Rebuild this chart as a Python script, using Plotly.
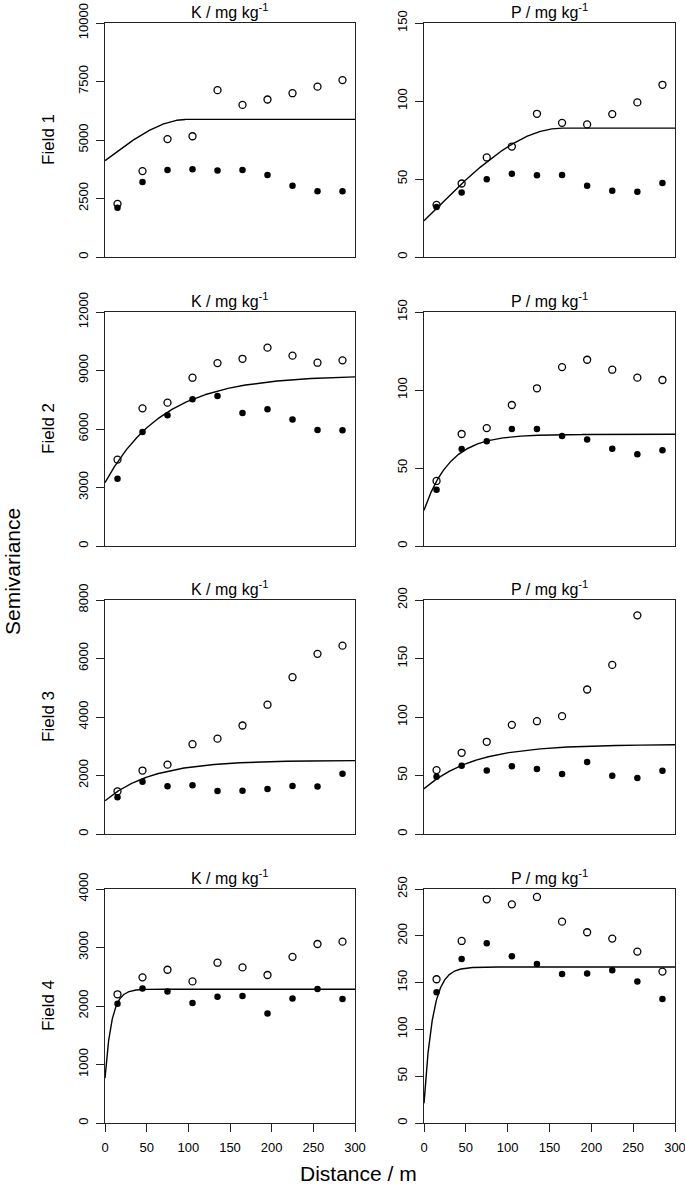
import numpy as np
import plotly.graph_objects as go

# lag distances (m)
lag = [15, 45, 75, 105, 135, 165, 195, 225, 255, 285]

# K / mg kg-1, open and filled symbols, fields 1-4
k_open_f1 = [2270, 3670, 5040, 5160, 7130, 6500, 6730, 7000, 7280, 7560]
k_fill_f1 = [2110, 3210, 3720, 3750, 3700, 3720, 3500, 3040, 2810, 2810]
k_open_f2 = [4430, 7060, 7350, 8630, 9380, 9600, 10170, 9760, 9400, 9520]
k_fill_f2 = [3450, 5850, 6700, 7520, 7690, 6820, 7010, 6490, 5950, 5930]
k_open_f3 = [1460, 2170, 2370, 3070, 3260, 3710, 4420, 5360, 6160, 6440]
k_fill_f3 = [1260, 1790, 1630, 1670, 1470, 1480, 1540, 1640, 1620, 2060]
k_open_f4 = [2200, 2490, 2620, 2420, 2740, 2660, 2530, 2840, 3060, 3100]
k_fill_f4 = [2040, 2300, 2250, 2050, 2160, 2170, 1870, 2130, 2290, 2120]

# P / mg kg-1
p_open_f1 = [33.4, 47.1, 63.8, 70.8, 91.8, 86.0, 85.0, 91.6, 99.1, 110.4]
p_fill_f1 = [32.1, 41.3, 49.9, 53.3, 52.4, 52.6, 45.6, 42.4, 41.9, 47.5]
p_open_f2 = [41.7, 71.8, 75.6, 90.4, 101.1, 114.7, 119.4, 113.0, 107.9, 106.4]
p_fill_f2 = [36.1, 62.2, 67.1, 75.0, 75.0, 70.5, 68.2, 62.4, 58.8, 61.3]
p_open_f3 = [54.6, 69.4, 78.8, 93.3, 96.4, 100.7, 123.5, 144.5, 186.9, None]
p_fill_f3 = [48.9, 58.3, 54.3, 57.8, 55.5, 51.2, 61.5, 49.8, 47.8, 54.1]
p_open_f4 = [153.6, 194.5, 239.0, 233.6, 241.5, 215.1, 203.8, 197.0, 183.1, 161.8]
p_fill_f4 = [139.8, 175.3, 192.0, 178.2, 170.0, 159.3, 159.7, 163.2, 151.1, 132.6]

# fitted variogram models: (type, nugget, partial sill, range)
k_models = [("sph", 4120, 1760, 98), ("exp", 3250, 5500, 70),
            ("exp", 1136, 1380, 57), ("exp", 768, 1519, 8)]
p_models = [("sph", 23.3, 59.3, 165), ("exp", 22.9, 48.7, 31),
            ("exp", 38.7, 37.8, 60), ("exp", 21, 145.7, 10.5)]

k_ymax = [10000, 12000, 8000, 4000]
k_dtick = [2500, 3000, 2000, 1000]
p_ymax = [150, 150, 200, 250]
p_dtick = [50, 50, 50, 50]

fields = ["Field 1", "Field 2", "Field 3", "Field 4"]
k_open = [k_open_f1, k_open_f2, k_open_f3, k_open_f4]
k_fill = [k_fill_f1, k_fill_f2, k_fill_f3, k_fill_f4]
p_open = [p_open_f1, p_open_f2, p_open_f3, p_open_f4]
p_fill = [p_fill_f1, p_fill_f2, p_fill_f3, p_fill_f4]


def model_curve(m, h):
    kind, c0, c1, a = m
    if kind == "sph":
        r = np.minimum(h / a, 1.0)
        return c0 + c1 * (1.5 * r - 0.5 * r ** 3)
    return c0 + c1 * (1 - np.exp(-h / a))


W, H = 685, 1196
col_px = [(105, 355), (424, 675)]
row_px = [(23, 257), (312, 546), (600, 834), (889, 1123)]
FONT = "Liberation Sans, Arial, sans-serif"
LINE = "#222222"


def fx(p):
    return p / W


def fy(p):
    return 1 - p / H


fig = go.Figure()
h = np.linspace(0, 300, 1201)
annotations = []

for r in range(4):
    for c in range(2):
        i = r * 2 + c
        sfx = "" if i == 0 else str(i + 1)
        xa, ya = "x" + sfx, "y" + sfx
        if c == 0:
            o, f, m, ymax, dt = k_open[r], k_fill[r], k_models[r], k_ymax[r], k_dtick[r]
            title = "K / mg kg<sup>-1</sup>"
        else:
            o, f, m, ymax, dt = p_open[r], p_fill[r], p_models[r], p_ymax[r], p_dtick[r]
            title = "P / mg kg<sup>-1</sup>"

        fig.add_trace(go.Scatter(x=h, y=model_curve(m, h), mode="lines",
                                 line=dict(color="black", width=1.4),
                                 xaxis=xa, yaxis=ya, showlegend=False))
        fig.add_trace(go.Scatter(x=lag, y=o, mode="markers",
                                 marker=dict(symbol="circle-open", size=7, color="black",
                                             line=dict(width=1.3)),
                                 xaxis=xa, yaxis=ya, showlegend=False))
        fig.add_trace(go.Scatter(x=lag, y=f, mode="markers",
                                 marker=dict(symbol="circle", size=6.5, color="black"),
                                 xaxis=xa, yaxis=ya, showlegend=False))

        x0, x1 = col_px[c]
        y0, y1 = row_px[r]
        bottom = r == 3
        fig.layout["xaxis" + sfx] = dict(
            domain=[fx(x0), fx(x1)], range=[0, 300], anchor=ya, automargin=False,
            showline=True, mirror=True, linecolor=LINE, linewidth=1.3,
            showgrid=False, zeroline=False,
            ticks="outside" if bottom else "", ticklen=8, tickwidth=1.3, tickcolor=LINE,
            showticklabels=bottom, tick0=0, dtick=50, ticklabelstandoff=4,
            ticklabeloverflow="allow",
            tickfont=dict(family=FONT, size=13, color="black"))
        fig.layout["yaxis" + sfx] = dict(
            domain=[fy(y1), fy(y0)], range=[0, ymax], anchor=xa, automargin=False,
            showline=True, mirror=True, linecolor=LINE, linewidth=1.3,
            showgrid=False, zeroline=False,
            ticks="outside", ticklen=8, tickwidth=1.3, tickcolor=LINE,
            tick0=0, dtick=dt, tickformat="d", tickangle=-90, ticklabelstandoff=3,
            ticklabeloverflow="allow",
            tickfont=dict(family=FONT, size=13, color="black"))

        annotations.append(dict(text=title, x=fx((x0 + x1) / 2), y=fy(y0 - 12),
                                xref="paper", yref="paper", showarrow=False,
                                xanchor="center", yanchor="middle",
                                font=dict(family=FONT, size=16, color="black")))
    annotations.append(dict(text=fields[r], x=fx(48), y=fy(sum(row_px[r]) / 2),
                            xref="paper", yref="paper", showarrow=False, textangle=-90,
                            xanchor="center", yanchor="middle",
                            font=dict(family=FONT, size=17, color="black")))

annotations.append(dict(text="Semivariance", x=fx(12), y=fy(572),
                        xref="paper", yref="paper", showarrow=False, textangle=-90,
                        xanchor="center", yanchor="middle",
                        font=dict(family=FONT, size=21, color="black")))
annotations.append(dict(text="Distance / m", x=fx(358), y=fy(1173),
                        xref="paper", yref="paper", showarrow=False,
                        xanchor="center", yanchor="middle",
                        font=dict(family=FONT, size=21, color="black")))

fig.update_layout(width=W, height=H, margin=dict(l=0, r=0, t=0, b=0, autoexpand=False),
                  paper_bgcolor="white", plot_bgcolor="white",
                  annotations=annotations, font=dict(family=FONT))

# drop the browser's default 8px body margin so the figure fills the window
fig.write_html("out.html", config={"displayModeBar": False},
               post_script="document.body.style.margin='0';")
